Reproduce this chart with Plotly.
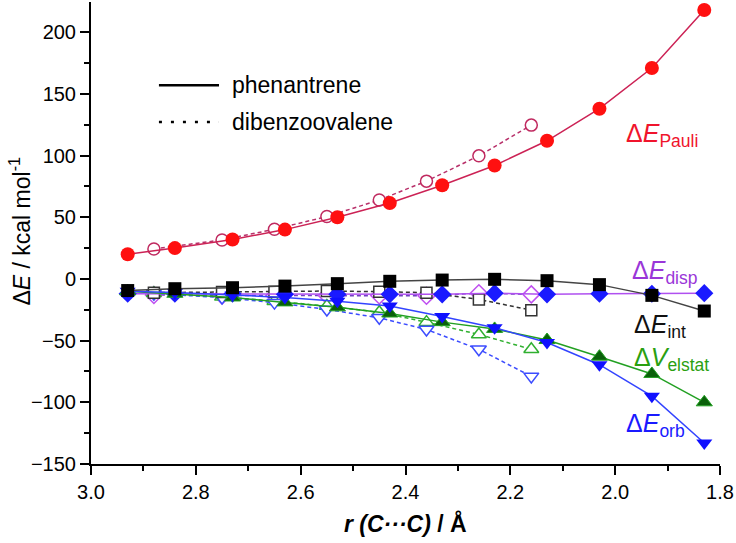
import plotly.graph_objects as go

# ---------------- data ----------------
r_phen = [2.93, 2.84, 2.73, 2.63, 2.53, 2.43, 2.33, 2.23, 2.13, 2.03, 1.93, 1.83]
pauli_phen = [20, 25, 32, 40, 50, 61.5, 76, 92, 112, 138, 171, 218]
disp_phen = [-12, -12, -12, -12.5, -12.5, -12.5, -12.5, -11.5, -12.5, -12, -12, -11.5]
int_phen = [-9.4, -7.9, -7.1, -5.8, -3.8, -1.9, -0.9, -0.3, -1.4, -4.6, -13.3, -26]
elstat_phen = [-10, -12, -15, -19, -23, -28, -35, -40.5, -49.5, -63, -77, -100]
orb_phen = [-10, -11, -13, -15, -18, -22, -30.5, -39.5, -51.5, -69.5, -95, -133]

r_dbo = [2.88, 2.75, 2.65, 2.55, 2.45, 2.36, 2.26, 2.16]
pauli_dbo = [24.3, 31.6, 40.3, 50.6, 64, 79.3, 99.8, 124.7]
disp_dbo = [-13, -13.5, -13.5, -13.5, -13.5, -13.7, -11.5, -12.5]
int_dbo = [-11.1, -10.6, -10.3, -9.8, -10.3, -11.1, -16.6, -25.3]
elstat_dbo = [-11.5, -14.5, -18, -22, -27, -35, -45, -57]
orb_dbo = [-12, -15, -19.2, -24.7, -31.5, -41, -57, -79]

y_ticks = [-150, -100, -50, 0, 50, 100, 150, 200]
x_ticks = [3.0, 2.8, 2.6, 2.4, 2.2, 2.0, 1.8]

FONT = "Liberation Sans, Arial, sans-serif"

fig = go.Figure()

def add(x, y, line_col, mk_sym, mk_col, mk_line, size, dash=None, lw=1.5, mlw=1.5):
    fig.add_trace(go.Scatter(
        x=x, y=y, mode="lines+markers",
        line=dict(color=line_col, width=lw, dash=dash),
        marker=dict(symbol=mk_sym, color=mk_col, size=size,
                    line=dict(color=mk_line, width=mlw)),
        showlegend=False, hoverinfo="skip"))

DASH = "4px,3px"
# dibenzoovalene (dashed, open markers with white fill)
add(r_dbo, pauli_dbo, "#b8306a", "circle", "white", "#c02a60", 12, DASH)
add(r_dbo, disp_dbo, "#7040c0", "diamond", "white", "#c050f0", 13, DASH)
add(r_dbo, elstat_dbo, "#30b030", "triangle-up", "white", "#30b030", 13, DASH)
add(r_dbo, orb_dbo, "#3c4cff", "triangle-down", "white", "#3c4cff", 13, DASH)
add(r_dbo, int_dbo, "#333333", "square", "white", "#333333", 11, DASH)

# phenantrene (solid, filled markers)
add(r_phen, pauli_phen, "#cc2255", "circle", "#ff1010", "#ff1010", 14, None, 1.5, 0)
add(r_phen, disp_phen, "#b050f0", "diamond", "#1a1aff", "#1a1aff", 14, None, 1.5, 0)
add(r_phen, elstat_phen, "#22a022", "triangle-up", "#0a600a", "#22a022", 14, None, 1.5, 1)
add(r_phen, orb_phen, "#3344ff", "triangle-down", "#1010ff", "#1010ff", 14, None, 1.5, 0)
add(r_phen, int_phen, "#444444", "square", "#000000", "#000000", 13, None, 1.5, 0)

axis_common = dict(showline=True, linecolor="black", linewidth=2, ticks="outside",
                   ticklen=9, tickwidth=2, tickcolor="black", showgrid=False,
                   zeroline=False, tickfont=dict(family=FONT, size=20, color="black"))

fig.update_xaxes(range=[3.0, 1.8], tickvals=x_ticks,
                 ticktext=[f"{v:.1f}" for v in x_ticks],
                 minor=dict(dtick=0.1, tick0=1.8, ticks="outside", ticklen=5,
                            tickwidth=2, tickcolor="black"),
                 **axis_common)
fig.update_yaxes(range=[-150, 224.5], tickvals=y_ticks,
                 minor=dict(dtick=25, tick0=0, ticks="outside", ticklen=5,
                            tickwidth=2, tickcolor="black"),
                 **axis_common)

ann = []
# axis titles
ann.append(dict(text="Δ<i>E</i> / kcal mol<sup>-1</sup>", xref="paper", yref="paper",
                x=-0.113, y=0.505, xanchor="center", yanchor="middle", textangle=-90,
                showarrow=False, font=dict(family=FONT, size=23, color="black")))
ann.append(dict(text="<b><i>r</i> <i>(C···C)</i> / Å</b>", xref="paper", yref="paper",
                x=0.5, y=-0.128, xanchor="center", yanchor="middle",
                showarrow=False, font=dict(family=FONT, size=23, color="black")))
# series labels
lab = dict(showarrow=False, xanchor="left", yanchor="middle", xref="x", yref="y")
ann.append(dict(text="Δ<i>E</i><sub>Pauli</sub>", x=1.984, y=117,
                font=dict(family=FONT, size=25, color="#f0142c"), **lab))
ann.append(dict(text="Δ<i>E</i><sub>disp</sub>", x=1.971, y=6,
                font=dict(family=FONT, size=25, color="#9a36d8"), **lab))
ann.append(dict(text="Δ<i>E</i><sub>int</sub>", x=1.968, y=-38,
                font=dict(family=FONT, size=25, color="#111111"), **lab))
ann.append(dict(text="Δ<i>V</i><sub>elstat</sub>", x=1.968, y=-65,
                font=dict(family=FONT, size=25, color="#2aa010"), **lab))
ann.append(dict(text="Δ<i>E</i><sub>orb</sub>", x=1.984, y=-118,
                font=dict(family=FONT, size=25, color="#1a1aff"), **lab))
# legend text
ann.append(dict(text="phenantrene", xref="paper", yref="paper", x=0.221, y=0.820,
                xanchor="left", yanchor="middle", showarrow=False,
                font=dict(family=FONT, size=23, color="black")))
ann.append(dict(text="dibenzoovalene", xref="paper", yref="paper", x=0.221, y=0.740,
                xanchor="left", yanchor="middle", showarrow=False,
                font=dict(family=FONT, size=23, color="black")))

shapes = [
    dict(type="line", xref="paper", yref="paper", x0=0.108, x1=0.2035, y0=0.820, y1=0.820,
         line=dict(color="black", width=2.5)),
    dict(type="line", xref="paper", yref="paper", x0=0.108, x1=0.2035, y0=0.740, y1=0.740,
         line=dict(color="black", width=2.5, dash="3px,9px")),
]

fig.update_layout(width=736, height=543, margin=dict(l=91, r=16, t=2, b=79),
                  plot_bgcolor="white", paper_bgcolor="white",
                  annotations=ann, shapes=shapes, showlegend=False,
                  hovermode=False, font=dict(family=FONT))

fig.write_html("out.html", config={"displayModeBar": False},
               post_script="document.body.style.margin='0';")
